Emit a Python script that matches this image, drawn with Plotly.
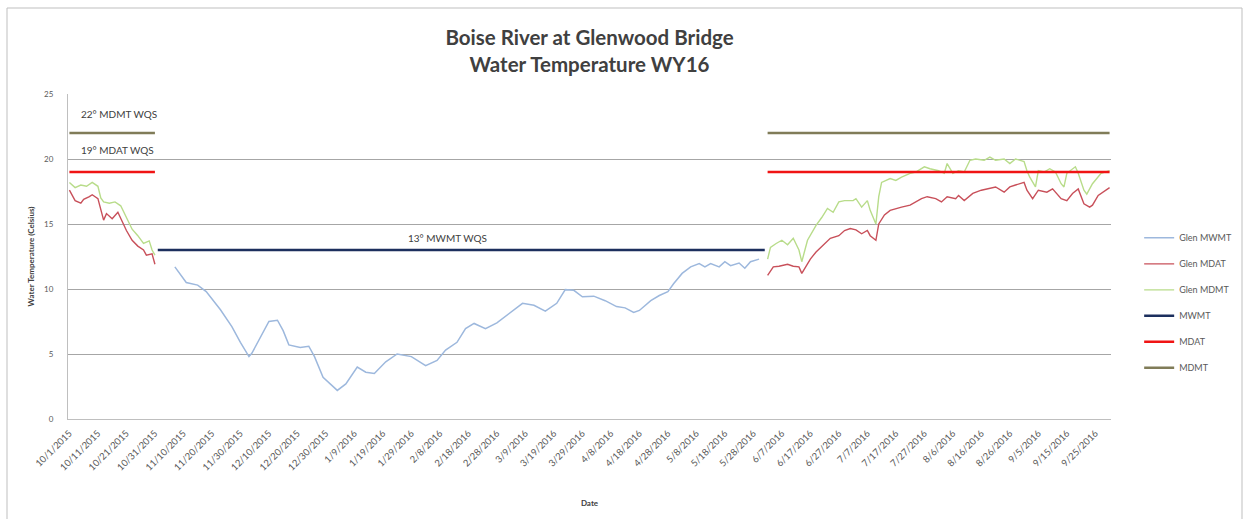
import pandas as pd
import plotly.graph_objects as go

START = pd.Timestamp("2015-10-01")

# Glen MWMT (7-day moving avg of daily max), day offsets from 10/1/2015
mwmt_days = [37, 41, 45, 48, 53, 57, 60, 63, 64, 67, 70, 73, 75, 77, 81, 84, 86, 89, 94, 97,
             101, 104, 107, 111, 115, 120, 125, 129, 132, 136, 139, 142, 146, 150, 155, 159,
             163, 167, 171, 174, 177, 180, 184, 188, 192, 195, 198, 200, 204, 207, 210, 212,
             215, 218, 221, 223, 225, 228, 230, 232, 235, 237, 239, 242]
mwmt_vals = [11.7, 10.5, 10.3, 9.8, 8.4, 7.1, 5.9, 4.8, 5.05, 6.3, 7.5, 7.6, 6.8, 5.7, 5.5, 5.6,
             4.8, 3.2, 2.2, 2.7, 4.0, 3.6, 3.5, 4.4, 5.0, 4.8, 4.1, 4.5, 5.3, 5.9, 6.95, 7.35,
             6.95, 7.4, 8.2, 8.9, 8.75, 8.3, 8.9, 9.95, 9.9, 9.4, 9.45, 9.1, 8.65, 8.55, 8.2,
             8.35, 9.1, 9.5, 9.8, 10.4, 11.2, 11.7, 11.95, 11.7, 11.95, 11.7, 12.1, 11.8, 12.0,
             11.6, 12.1, 12.3]

# Glen MDAT (max daily average temperature)
mdat_days = [0, 2, 4, 5, 7, 8, 10, 11, 12, 13, 15, 17, 18, 20, 22, 24, 26, 27, 29, 30, None,
             245, 247, 249, 252, 254, 256, 257, 260, 262, 265, 267, 270, 272, 274, 276, 278,
             280, 281, 283, 284, 286, 288, 290, 292, 295, 297, 299, 301, 304, 306, 308, 311,
             312, 314, 317, 320, 322, 325, 328, 330, 332, 335, 336, 338, 340, 343, 345, 348,
             350, 352, 354, 356, 358, 359, 361, 364, 365]
mdat_vals = [17.6, 16.8, 16.6, 16.9, 17.1, 17.25, 16.95, 16.0, 15.3, 15.8, 15.4, 15.9, 15.4,
             14.5, 13.75, 13.3, 13.0, 12.6, 12.7, 11.9, None,
             11.05, 11.7, 11.75, 11.9, 11.75, 11.7, 11.2, 12.3, 12.85, 13.5, 13.9, 14.1, 14.5,
             14.65, 14.55, 14.25, 14.5, 14.1, 13.75, 15.0, 15.7, 16.05, 16.2, 16.3, 16.45, 16.7,
             16.95, 17.1, 16.95, 16.7, 17.1, 16.95, 17.2, 16.8, 17.35, 17.6, 17.7, 17.85, 17.45,
             17.85, 18.0, 18.2, 17.6, 16.95, 17.6, 17.45, 17.7, 16.95, 16.8, 17.35, 17.7, 16.55,
             16.3, 16.45, 17.2, 17.7, 17.8]

# Glen MDMT (max daily maximum temperature)
mdmt_days = [0, 2, 4, 6, 8, 10, 11, 12, 14, 16, 18, 20, 22, 24, 26, 28, 29, 30, None,
             245, 246, 248, 250, 252, 254, 256, 257, 259, 262, 264, 266, 268, 270, 272, 275,
             276, 278, 280, 281, 283, 284, 285, 288, 290, 292, 295, 297, 300, 302, 305, 307,
             308, 310, 312, 314, 316, 318, 321, 323, 325, 328, 330, 332, 335, 336, 337, 339,
             340, 342, 344, 346, 348, 349, 350, 353, 354, 356, 357, 359, 362, 365]
mdmt_vals = [18.2, 17.8, 18.0, 17.9, 18.2, 17.9, 17.0, 16.7, 16.6, 16.7, 16.4, 15.5, 14.6, 14.1,
             13.5, 13.7, 13.0, 12.6, None,
             12.3, 13.2, 13.5, 13.75, 13.4, 13.9, 13.0, 12.1, 13.75, 14.9, 15.5, 16.2, 15.9,
             16.7, 16.8, 16.8, 16.95, 16.3, 16.8, 16.05, 15.0, 17.1, 18.2, 18.5, 18.35, 18.6,
             18.9, 19.0, 19.4, 19.25, 19.1, 18.9, 19.65, 18.9, 19.1, 19.0, 19.9, 20.0, 19.9,
             20.15, 19.9, 20.0, 19.65, 20.0, 19.8, 19.1, 18.6, 17.85, 19.1, 19.0, 19.25, 19.0,
             18.1, 17.85, 18.9, 19.4, 18.9, 17.6, 17.3, 18.1, 18.9, 19.1]

# Water quality standards (criteria) and the periods they apply
wqs_mwmt_days = [31, 244]
wqs_mwmt_vals = [13, 13]
wqs_mdat_days = [0, 30, None, 245, 365]
wqs_mdat_vals = [19, 19, None, 19, 19]
wqs_mdmt_days = [0, 30, None, 245, 365]
wqs_mdmt_vals = [22, 22, None, 22, 22]

y_ticks = [0, 5, 10, 15, 20, 25]
n_xticks = 37


def to_dates(days):
    return [None if d is None else START + pd.Timedelta(days=d) for d in days]


FONT = "Lato, 'Open Sans', sans-serif"
fig = go.Figure()

series = [
    ("Glen MWMT", mwmt_days, mwmt_vals, "#9db8dd", 1.5),
    ("Glen MDAT", mdat_days, mdat_vals, "#c8505a", 1.4),
    ("Glen MDMT", mdmt_days, mdmt_vals, "#b8dc8a", 1.4),
    ("MWMT", wqs_mwmt_days, wqs_mwmt_vals, "#1c2f5e", 2.5),
    ("MDAT", wqs_mdat_days, wqs_mdat_vals, "#f01414", 2.5),
    ("MDMT", wqs_mdmt_days, wqs_mdmt_vals, "#807c58", 2.5),
]
for i, (name, d, v, c, w) in enumerate(series):
    fig.add_trace(go.Scatter(
        x=to_dates(d), y=v, mode="lines", name=name,
        line=dict(color=c, width=w), connectgaps=False,
        legendgroup=f"g{i}",
    ))

tick_dates = pd.date_range(START, periods=n_xticks, freq="10D")
tick_text = [f"{t.month}/{t.day}/{t.year}" for t in tick_dates]

fig.update_layout(
    width=1251, height=519,
    margin=dict(l=68, r=140, t=94, b=100),
    paper_bgcolor="white", plot_bgcolor="white",
    font=dict(family=FONT, color="#595959", size=9),
    showlegend=True,
    legend=dict(
        x=1.027, y=0.602, xanchor="left", yanchor="top",
        font=dict(size=9, color="#595959"),
        traceorder="grouped", tracegroupgap=7,
        itemwidth=30, bgcolor="rgba(0,0,0,0)",
    ),
    xaxis=dict(
        type="date",
        range=[START - pd.Timedelta(hours=12), START + pd.Timedelta(days=365, hours=12)],
        tickmode="array", tickvals=list(tick_dates), ticktext=tick_text,
        tickangle=-45, tickfont=dict(size=9.5, color="#595959"),
        showgrid=False, showline=True, linecolor="#bfbfbf", linewidth=1,
        ticks="outside", ticklen=4, tickcolor="rgba(0,0,0,0)", zeroline=False,
        title=dict(text="<b>Date</b>", font=dict(size=8, color="#404040"), standoff=28),
    ),
    yaxis=dict(
        range=[0, 25], tickmode="array", tickvals=y_ticks,
        tickfont=dict(size=8, color="#595959"),
        showgrid=True, gridcolor="#a6a6a6", gridwidth=1,
        showline=True, linecolor="#bfbfbf", linewidth=1,
        zeroline=False, ticks="outside", ticklen=12, tickcolor="rgba(0,0,0,0)",
        title=dict(text="<b>Water Temperature (Celsius)</b>",
                   font=dict(size=8, color="#404040"), standoff=8),
    ),
    title=dict(
        text="<b>Boise River at Glenwood Bridge<br>Water Temperature WY16</b>",
        x=0.5, xref="paper", xanchor="center", y=0.913, yanchor="top",
        font=dict(size=20.5, color="#404040", family=FONT),
    ),
)

fig.add_annotation(x=START + pd.Timedelta(days=3.5), y=23.5, text="22° MDMT WQS",
                   showarrow=False, xanchor="left", yanchor="middle",
                   font=dict(size=10, color="#404040"))
fig.add_annotation(x=START + pd.Timedelta(days=3.5), y=20.7, text="19° MDAT WQS",
                   showarrow=False, xanchor="left", yanchor="middle",
                   font=dict(size=10, color="#404040"))
fig.add_annotation(x=START + pd.Timedelta(days=132.5), y=13.9, text="13° MWMT WQS",
                   showarrow=False, xanchor="center", yanchor="middle",
                   font=dict(size=10, color="#404040"))

# outer chart-area border
fig.add_shape(type="rect", xref="paper", yref="paper",
              x0=(7 - 68) / 1043, x1=(1242 - 68) / 1043,
              y0=(419 - 540) / 325, y1=(419 - 8) / 325,
              line=dict(color="#bfbfbf", width=1), fillcolor="rgba(0,0,0,0)", layer="below")

fig.write_html("out.html")
